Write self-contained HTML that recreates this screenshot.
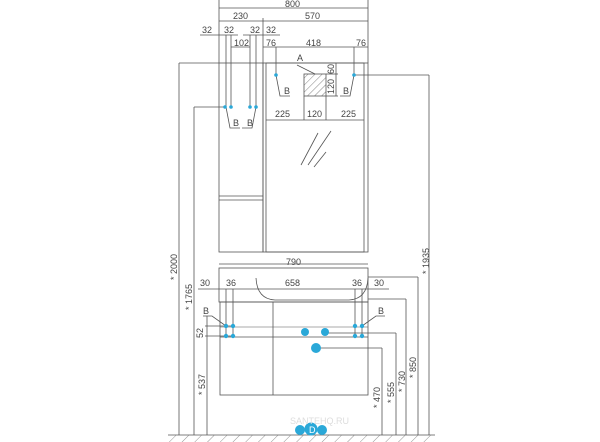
<!DOCTYPE html>
<html><head><meta charset="utf-8"><style>
html,body{margin:0;padding:0;background:#fff;width:600px;height:442px;overflow:hidden}
svg{display:block}
text{font-family:"Liberation Sans",sans-serif;font-size:9px;fill:#444}
</style></head><body>
<svg width="600" height="442" viewBox="0 0 600 442" xmlns="http://www.w3.org/2000/svg">
<defs>
<pattern id="h" width="5" height="5" patternUnits="userSpaceOnUse" patternTransform="rotate(45)"><line x1="0" y1="0" x2="0" y2="5" stroke="#666" stroke-width="0.8"/></pattern>
<pattern id="f" width="9" height="9" patternUnits="userSpaceOnUse" patternTransform="rotate(45)"><line x1="0" y1="0" x2="0" y2="9" stroke="#777" stroke-width="0.8"/></pattern>
</defs>
<g stroke="#555" stroke-width="0.8" fill="none">
<line x1="168" y1="435" x2="435" y2="435"/>
<rect x="168" y="435" width="267" height="7" fill="url(#f)" stroke="none"/>
<rect x="219" y="63" width="44" height="189"/>
<line x1="219" y1="196" x2="263" y2="196"/><line x1="219" y1="200" x2="263" y2="200"/>
<rect x="263" y="63" width="105" height="189"/>
<rect x="266" y="63" width="98" height="189"/>
<rect x="304" y="74" width="22" height="22" fill="url(#h)"/>
<line x1="301" y1="165" x2="318" y2="133"/><line x1="308" y1="165" x2="331" y2="131"/><line x1="314" y1="167" x2="326" y2="152"/>
<rect x="219" y="268" width="149" height="34"/>
<path d="M256 278 Q257 299 275 300 L349 300 Q367 299 368 278"/>
<rect x="220" y="302" width="148" height="93"/>
<line x1="273" y1="302" x2="273" y2="395"/>
<line x1="220" y1="337" x2="368" y2="337"/>
<line x1="220" y1="327" x2="368" y2="327" stroke-width="0.5"/>
<line x1="219" y1="0" x2="219" y2="63"/><line x1="368" y1="0" x2="368" y2="63"/>
<line x1="219" y1="8" x2="368" y2="8"/>
<line x1="263" y1="18" x2="263" y2="63"/>
<line x1="219" y1="21" x2="368" y2="21"/>
<line x1="200" y1="35" x2="238" y2="35"/><line x1="243" y1="35" x2="280" y2="35"/>
<line x1="226" y1="35" x2="226" y2="107"/><line x1="231" y1="35" x2="231" y2="107"/>
<line x1="250" y1="35" x2="250" y2="107"/><line x1="256" y1="35" x2="256" y2="107"/>
<line x1="231" y1="47" x2="250" y2="47"/>
<line x1="263" y1="47" x2="368" y2="47"/>
<line x1="276" y1="47" x2="276" y2="75"/><line x1="354" y1="47" x2="354" y2="75"/>
<line x1="304" y1="96" x2="304" y2="120"/><line x1="326" y1="96" x2="326" y2="120"/>
<line x1="266" y1="120" x2="364" y2="120"/>
<line x1="336" y1="63" x2="336" y2="96"/><line x1="326" y1="96" x2="338" y2="96"/><line x1="326" y1="74" x2="338" y2="74"/>
<line x1="297" y1="65" x2="315" y2="74"/>
<path d="M276 75 L280 96 L290 96"/><path d="M354 75 L350 96 L340 96"/>
<path d="M226 107 L230 128 L240 128"/><path d="M256 107 L252 128 L242 128"/>
<line x1="179" y1="63" x2="219" y2="63"/><line x1="179" y1="63" x2="179" y2="435"/>
<line x1="194" y1="107" x2="226" y2="107"/><line x1="194" y1="107" x2="194" y2="435"/>
<line x1="207" y1="316" x2="207" y2="435"/>
<line x1="205" y1="326" x2="235" y2="326"/><line x1="205" y1="336" x2="235" y2="336"/>
<line x1="354" y1="75" x2="429" y2="75"/><line x1="429" y1="75" x2="429" y2="435"/>
<line x1="368" y1="277" x2="418" y2="277"/><line x1="418" y1="277" x2="418" y2="435"/>
<line x1="368" y1="299" x2="406" y2="299"/><line x1="406" y1="299" x2="406" y2="435"/>
<line x1="325" y1="333" x2="396" y2="333"/><line x1="396" y1="333" x2="396" y2="435"/>
<line x1="316" y1="348" x2="382" y2="348"/><line x1="382" y1="348" x2="382" y2="435"/>
<line x1="219" y1="264" x2="368" y2="264"/>
<line x1="198" y1="289" x2="389" y2="289"/>
<line x1="226" y1="289" x2="226" y2="336"/><line x1="233" y1="289" x2="233" y2="336"/>
<line x1="355" y1="289" x2="355" y2="336"/><line x1="362" y1="289" x2="362" y2="336"/>
<path d="M203 316 L212 316 L226 326"/><path d="M385 316 L376 316 L362 326"/>
</g>
<g fill="#2aa8d8">
<circle cx="225" cy="107" r="1.8"/><circle cx="231" cy="107" r="1.8"/><circle cx="250" cy="107" r="1.8"/><circle cx="256" cy="107" r="1.8"/>
<circle cx="276" cy="75" r="1.8"/><circle cx="354" cy="75" r="1.8"/>
<circle cx="226" cy="326" r="2.2"/><circle cx="233" cy="326" r="2.2"/><circle cx="355" cy="326" r="2.2"/><circle cx="362" cy="326" r="2.2"/>
<circle cx="226" cy="336" r="2.2"/><circle cx="233" cy="336" r="2.2"/><circle cx="355" cy="336" r="2.2"/><circle cx="362" cy="336" r="2.2"/>
<circle cx="305" cy="332" r="4"/><circle cx="325" cy="332" r="4"/><circle cx="316" cy="348" r="5"/>
<circle cx="300" cy="430" r="5"/><circle cx="311" cy="429" r="6.5"/><circle cx="322" cy="430" r="5"/>
</g>
<text x="309" y="433" font-size="8" style="fill:#fff">D</text>
<text x="290" y="424" font-size="8" style="fill:#ddd">SANTEHQ.RU</text>
<text x="285" y="7">800</text>
<text x="233" y="19">230</text><text x="305" y="19">570</text>
<text x="202" y="33">32</text><text x="224" y="33">32</text><text x="250" y="33">32</text><text x="266" y="33">32</text>
<text x="234" y="46">102</text><text x="266" y="46">76</text><text x="306" y="46">418</text><text x="356" y="46">76</text>
<text x="297" y="61">A</text>
<text x="284" y="94">B</text><text x="343" y="94">B</text>
<text x="233" y="126">B</text><text x="247" y="126">B</text>
<text x="275" y="117">225</text><text x="307" y="117">120</text><text x="341" y="117">225</text>
<text transform="translate(334,74) rotate(-90)" font-size="8">60</text>
<text transform="translate(334,94) rotate(-90)" font-size="8">120</text>
<text x="286" y="265">790</text>
<text x="200" y="286">30</text><text x="226" y="286">36</text><text x="285" y="286">658</text><text x="352" y="286">36</text><text x="374" y="286">30</text>
<text x="203" y="314">B</text><text x="378" y="314">B</text>
<text transform="translate(203,338) rotate(-90)">52</text>
<text transform="translate(177,280) rotate(-90)">* 2000</text>
<text transform="translate(192,310) rotate(-90)">* 1765</text>
<text transform="translate(205,395) rotate(-90)">* 537</text>
<text transform="translate(429,274) rotate(-90)">* 1935</text>
<text transform="translate(416,378) rotate(-90)">* 850</text>
<text transform="translate(405,392) rotate(-90)">* 730</text>
<text transform="translate(394,403) rotate(-90)">* 555</text>
<text transform="translate(380,408) rotate(-90)">* 470</text>
</svg>
</body></html>
